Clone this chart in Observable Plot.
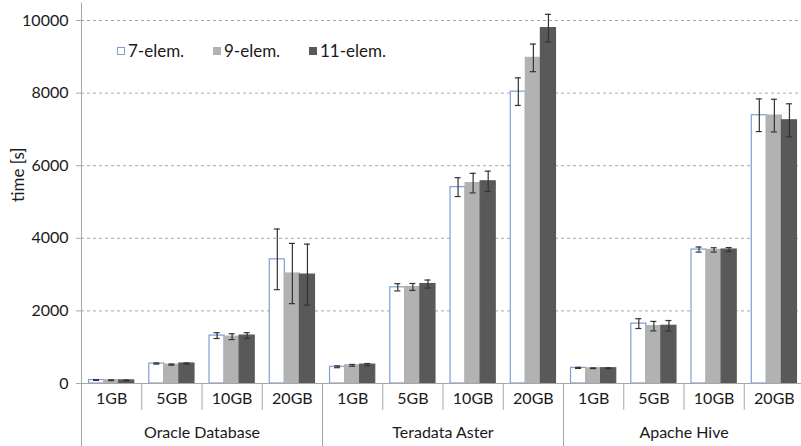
<!DOCTYPE html>
<html>
<head>
<meta charset="utf-8">
<script src="https://cdn.jsdelivr.net/npm/d3@7"></script>
<script src="https://cdn.jsdelivr.net/npm/@observablehq/plot@0.6"></script>
<style>
  html, body { margin: 0; padding: 0; background: #fff; }
  #wrap { position: relative; width: 801px; height: 446px; font-family: Lato, sans-serif; }
  #legend { position: absolute; left: 117px; top: 40px; display: flex; font-size: 17px; color: #1a1a1a; }
  #legend .item { display: flex; align-items: center; width: 96px; }
  #legend .sw { width: 8px; height: 8px; margin-right: 3px; box-sizing: border-box; }
</style>
</head>
<body>
<div id="wrap"><div id="legend"></div></div>
<script>
// ---- data ----
const groups = ["Oracle Database", "Teradata Aster", "Apache Hive"];
const sizes = ["1GB", "5GB", "10GB", "20GB"];
const series = ["7-elem.", "9-elem.", "11-elem."];
const yTicks = [0, 2000, 4000, 6000, 8000, 10000];

const elem7  = [95, 550, 1320, 3420, 460, 2650, 5410, 8040, 430, 1650, 3690, 7390];
const elem9  = [90, 520, 1290, 3030, 500, 2660, 5520, 8970, 420, 1580, 3680, 7380];
const elem11 = [85, 550, 1320, 3000, 520, 2740, 5570, 9790, 420, 1590, 3690, 7250];
const err7   = [10, 15, 80, 835, 25, 100, 260, 380, 15, 135, 70, 450];
const err9   = [10, 15, 80, 830, 25, 95, 270, 380, 10, 130, 60, 450];
const err11  = [10, 15, 80, 840, 30, 110, 280, 380, 10, 145, 55, 455];

const colors = { fill: ["#ffffff", "#b2b2b2", "#595959"], stroke: ["#7f9fd3", "#b2b2b2", "#595959"] };

// ---- build table ----
const vals = [elem7, elem9, elem11];
const errs = [err7, err9, err11];
const cats = [];
groups.forEach((g, gi) => sizes.forEach((s, si) => cats.push({ group: g, size: s, idx: gi * sizes.length + si })));
const rows = [];
series.forEach((name, k) => cats.forEach(c => {
  const v = vals[k][c.idx], e = errs[k][c.idx];
  const x1 = c.idx - 0.375 + 0.25 * k;
  rows.push({ series: name, k, x1, x2: x1 + 0.25, cx: x1 + 0.125, v, lo: v - e, hi: v + e });
}));
const seps = d3.range(cats.length - 1).map(i => ({ x: i + 0.5, major: (i + 1) % sizes.length === 0 }));
const groupCenters = groups.map((g, gi) => ({ g, x: gi * sizes.length + (sizes.length - 1) / 2 }));

const grey = "#a6a6a6";
const ink = "#1a1a1a";

const marks = [
  Plot.ruleY(yTicks.slice(1), { stroke: grey, strokeDasharray: "3,3" }),
];
series.forEach((name, k) => {
  marks.push(Plot.rectY(rows.filter(r => r.k === k), {
    x1: "x1", x2: "x2", y1: 0, y2: "v",
    fill: colors.fill[k], stroke: colors.stroke[k], strokeWidth: 1.2
  }));
});
marks.push(
  Plot.ruleX(rows, { x: "cx", y1: "lo", y2: "hi", stroke: "#333", strokeWidth: 1.2 }),
  Plot.ruleY(rows, { y: "hi", x1: d => d.cx - 0.05, x2: d => d.cx + 0.05, stroke: "#333", strokeWidth: 1.2 }),
  Plot.ruleY(rows, { y: "lo", x1: d => d.cx - 0.05, x2: d => d.cx + 0.05, stroke: "#333", strokeWidth: 1.2 }),
  Plot.ruleY([0], { stroke: grey }),
  Plot.ruleX([-0.5], { y1: -1740, y2: 10480, stroke: grey }),
  Plot.ruleX(seps, { x: "x", y1: 0, y2: d => d.major ? -1740 : -740, stroke: grey }),
  Plot.text(cats, { x: "idx", text: "size", frameAnchor: "bottom", dy: 20, fill: ink, fontSize: 16 }),
  Plot.text(groupCenters, { x: "x", text: "g", frameAnchor: "bottom", dy: 54, fill: ink, fontSize: 16 }),
  Plot.axisY({ ticks: yTicks, tickSize: 5, tickPadding: 8, stroke: grey, fill: ink, fontSize: 16, label: null, tickFormat: d => String(d) }),
  Plot.text(["time [s]"], { frameAnchor: "left", dx: -63, rotate: -90, fill: ink, fontSize: 17 })
);

const chart = Plot.plot({
  width: 801,
  height: 446,
  marginLeft: 81,
  marginRight: 0,
  marginTop: 20,
  marginBottom: 63,
  clip: false,
  style: { fontFamily: "Lato, sans-serif", fontSize: "16px", background: "#fff", overflow: "visible" },
  x: { type: "linear", domain: [-0.5, 11.5], range: [81, 804], axis: null },
  y: { domain: [0, 10000], axis: null },
  marks
});
const wrap = document.getElementById("wrap");
wrap.insertBefore(chart, wrap.firstChild);

// legend
const legend = document.getElementById("legend");
series.forEach((name, k) => {
  const item = document.createElement("div");
  item.className = "item";
  const sw = document.createElement("span");
  sw.className = "sw";
  sw.style.background = colors.fill[k];
  sw.style.border = "1px solid " + colors.stroke[k];
  const t = document.createElement("span");
  t.textContent = name;
  item.appendChild(sw);
  item.appendChild(t);
  legend.appendChild(item);
});
</script>
</body>
</html>
